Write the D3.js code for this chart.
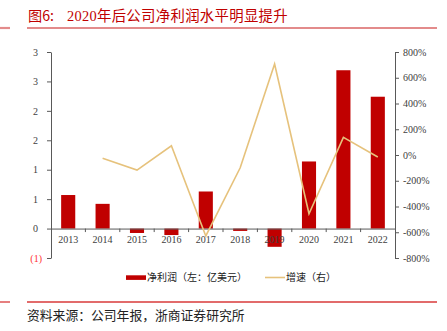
<!DOCTYPE html>
<html>
<head>
<meta charset="utf-8">
<script src="https://cdn.jsdelivr.net/npm/d3@7"></script>
<style>
  html, body { margin: 0; padding: 0; background: #fff; }
  svg { display: block; }
</style>
</head>
<body>
<svg id="chart" width="447" height="331"></svg>
<script>
// ---- data ----
const categories = ["2013","2014","2015","2016","2017","2018","2019","2020","2021","2022"];
const netProfit = [0.57, 0.42, -0.075, -0.11, 0.63, -0.04, -0.31, 1.14, 2.69, 2.24]; // 亿美元
const growth = [null, -26, -117, 72, -629, -99, 707, -456, 137, -16]; // %
const leftTickValues = [-0.5, 0, 0.5, 1, 1.5, 2, 2.5, 3];
const leftTickLabels = ["(1)", "0", "1", "1", "2", "2", "3", "3"];
const rightTickValues = [-800, -600, -400, -200, 0, 200, 400, 600, 800];
const rightTickLabels = ["-800%", "-600%", "-400%", "-200%", "0%", "200%", "400%", "600%", "800%"];
const titleLabel = "图6:";
const titleText = "2020年后公司净利润水平明显提升";
const legendBar = "净利润（左：亿美元）";
const legendLine = "增速（右）";
const sourceText = "资料来源：公司年报，浙商证券研究所";

// ---- styles ----
const RED = "#c00000";
const GOLD = "#e6c27c";
const AXIS = "#595959";
const TXT = "#404040";
const SERIF = "'Liberation Serif','Noto Sans CJK SC',serif";
const CJK = "'Noto Sans CJK SC','Liberation Serif',sans-serif";

const svg = d3.select("#chart");

// ---- header ----
svg.append("text").attr("x", 28).attr("y", 20.5)
  .attr("font-family", CJK).attr("font-size", 14.2).attr("fill", RED)
  .text(titleLabel);
svg.append("text").attr("x", 67).attr("y", 20.5)
  .attr("font-family", SERIF).attr("font-size", 14.4).attr("fill", RED)
  .attr("letter-spacing", 0.3)
  .text(titleText);
[[0,10],[27,437]].forEach(([a,b]) => {
  svg.append("line").attr("x1", a).attr("x2", b).attr("y1", 28).attr("y2", 28)
    .attr("stroke", "#e38b8b").attr("stroke-width", 2.2);
  svg.append("line").attr("x1", a).attr("x2", b).attr("y1", 302).attr("y2", 302)
    .attr("stroke", "#d83a3a").attr("stroke-width", 1.3);
});
svg.append("text").attr("x", 27).attr("y", 319.5)
  .attr("font-family", CJK).attr("font-size", 12.8).attr("fill", "#222")
  .text(sourceText);

// ---- scales ----
const x = d3.scaleBand().domain(categories).range([51, 395])
  .paddingInner(0.59).paddingOuter(0.295);
const yL = d3.scaleLinear().domain([-0.5, 3]).range([258, 52]);
const yR = d3.scaleLinear().domain([-800, 800]).range([258, 52]);

// ---- bars ----
svg.append("g").selectAll("rect").data(netProfit).join("rect")
  .attr("x", (d, i) => x(categories[i]))
  .attr("width", x.bandwidth())
  .attr("y", d => yL(Math.max(0, d)))
  .attr("height", d => Math.abs(yL(d) - yL(0)))
  .attr("fill", RED);

// ---- zero / category axis ----
const gx = svg.append("g").attr("transform", `translate(0,${yL(0)})`)
  .call(d3.axisBottom(x).tickSize(0).tickSizeOuter(0).tickPadding(7));
gx.select(".domain").attr("stroke", AXIS);
gx.selectAll("text").attr("font-family", SERIF).attr("font-size", 10).attr("fill", TXT);
const half = (x.step() - x.bandwidth()) / 2;
gx.append("g").selectAll("line").data(categories.slice(1)).join("line")
  .attr("x1", d => x(d) - half).attr("x2", d => x(d) - half)
  .attr("y1", 0).attr("y2", 3.5).attr("stroke", AXIS);

// ---- line ----
const line = d3.line()
  .defined(d => d != null)
  .x((d, i) => x(categories[i]) + x.bandwidth() / 2)
  .y(d => yR(d));
svg.append("path").datum(growth)
  .attr("d", line).attr("fill", "none")
  .attr("stroke", GOLD).attr("stroke-width", 1.6).attr("stroke-linejoin", "miter");

// ---- left axis ----
const gl = svg.append("g").attr("transform", `translate(${x.range()[0]},0)`)
  .call(d3.axisLeft(yL).tickValues(leftTickValues)
    .tickFormat((d, i) => leftTickLabels[i]).tickSize(4).tickSizeOuter(0).tickPadding(9));
gl.selectAll("path,line").attr("stroke", AXIS);
gl.selectAll("text").attr("font-family", SERIF).attr("font-size", 10).attr("fill", TXT);
gl.selectAll(".tick").filter(d => d < 0).select("text")
  .attr("fill", "#ff3030").attr("dx", 4);

// ---- right axis ----
const gr = svg.append("g").attr("transform", `translate(${x.range()[1]},0)`)
  .call(d3.axisRight(yR).tickValues(rightTickValues)
    .tickFormat((d, i) => rightTickLabels[i]).tickSize(4).tickSizeOuter(0).tickPadding(4));
gr.selectAll("path,line").attr("stroke", AXIS);
gr.selectAll("text").attr("font-family", SERIF).attr("font-size", 10).attr("fill", TXT);

// ---- legend ----
const lg = svg.append("g").attr("font-family", CJK).attr("font-size", 10).attr("fill", "#222");
lg.append("rect").attr("x", 126).attr("y", 275.3).attr("width", 20).attr("height", 4.6).attr("fill", RED);
lg.append("text").attr("x", 147).attr("y", 281).text(legendBar);
lg.append("line").attr("x1", 265).attr("x2", 285).attr("y1", 277.5).attr("y2", 277.5)
  .attr("stroke", GOLD).attr("stroke-width", 1.6);
lg.append("text").attr("x", 286).attr("y", 281).text(legendLine);
</script>
</body>
</html>
